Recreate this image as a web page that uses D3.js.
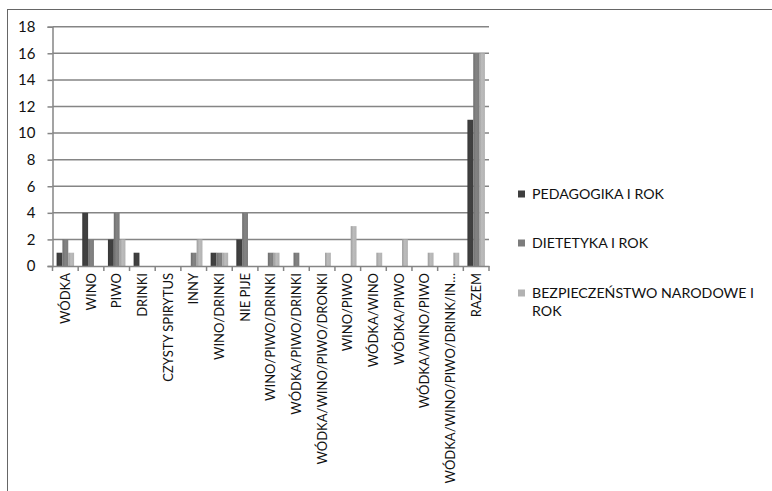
<!DOCTYPE html>
<html>
<head>
<meta charset="utf-8">
<script src="https://cdn.jsdelivr.net/npm/d3@7"></script>
<style>
  html, body { margin: 0; padding: 0; background: #fff; }
  svg { display: block; }
  text { font-family: Lato, "Open Sans", sans-serif; fill: #111; }
</style>
</head>
<body>
<svg id="chart" width="772" height="491"></svg>
<script>
const categories = [
  "WÓDKA", "WINO", "PIWO", "DRINKI", "CZYSTY SPIRYTUS", "INNY", "WINO/DRINKI",
  "NIE PIJE", "WINO/PIWO/DRINKI", "WÓDKA/PIWO/DRINKI", "WÓDKA/WINO/PIWO/DRONKI",
  "WINO/PIWO", "WÓDKA/WINO", "WÓDKA/PIWO", "WÓDKA/WINO/PIWO",
  "WÓDKA/WINO/PIWO/DRINK/IN…", "RAZEM"
];
const seriesNames = ["PEDAGOGIKA I ROK", "DIETETYKA I ROK", "BEZPIECZEŃSTWO NARODOWE I ROK"];
const pedagogika   = [1, 4, 2, 1, 0, 0, 1, 2, 0, 0, 0, 0, 0, 0, 0, 0, 11];
const dietetyka    = [2, 2, 4, 0, 0, 1, 1, 4, 1, 1, 0, 0, 0, 0, 0, 0, 16];
const bezpieczenstwo = [1, 0, 2, 0, 0, 2, 1, 0, 1, 0, 1, 3, 1, 2, 1, 1, 16];
const yTicks = [0, 2, 4, 6, 8, 10, 12, 14, 16, 18];

const series = [pedagogika, dietetyka, bezpieczenstwo];
const colors = ["#3e3e3e", "#7c7c7c", "#b2b2b2"];

const svg = d3.select("#chart");

// outer frame (left and top edges of the embedded chart)
svg.append("line").attr("x1", 7.5).attr("x2", 7.5).attr("y1", 9).attr("y2", 491)
  .attr("stroke", "#666").attr("stroke-width", 1);
svg.append("line").attr("x1", 7).attr("x2", 772).attr("y1", 9.5).attr("y2", 9.5)
  .attr("stroke", "#666").attr("stroke-width", 1);

const plot = { left: 52.5, right: 489, top: 26.7, bottom: 266 };

const x = d3.scaleBand().domain(categories).range([plot.left, plot.right]).paddingInner(0).paddingOuter(0);
const inner = d3.scaleBand().domain(d3.range(series.length)).range([0, x.bandwidth()]).paddingOuter(0.7).paddingInner(0);
const y = d3.scaleLinear().domain([0, 18]).range([plot.bottom, plot.top]);

// gradients for bars
const defs = svg.append("defs");
colors.forEach((c, i) => {
  const g = defs.append("linearGradient").attr("id", "g" + i).attr("x1", "0").attr("x2", "1").attr("y1", "0").attr("y2", "0");
  g.append("stop").attr("offset", "0%").attr("stop-color", d3.color(c).darker(0.35));
  g.append("stop").attr("offset", "45%").attr("stop-color", d3.color(c).brighter(0.15));
  g.append("stop").attr("offset", "100%").attr("stop-color", c);
});

// gridlines
svg.append("g").selectAll("line").data(yTicks.filter(d => d > 0)).join("line")
  .attr("x1", plot.left).attr("x2", plot.right)
  .attr("y1", d => y(d)).attr("y2", d => y(d))
  .attr("stroke", "#858585").attr("stroke-width", 1.5);

// bars
series.forEach((vals, si) => {
  svg.append("g").selectAll("rect").data(vals).join("rect")
    .attr("x", (d, i) => x(categories[i]) + inner(si))
    .attr("width", inner.bandwidth())
    .attr("y", d => y(d))
    .attr("height", d => y(0) - y(d))
    .attr("fill", `url(#g${si})`);
});

// y axis
const yAxis = svg.append("g").attr("transform", `translate(${plot.left},0)`)
  .call(d3.axisLeft(y).tickValues(yTicks).tickSize(5).tickPadding(12));
yAxis.select(".domain").attr("stroke", "#858585").attr("stroke-width", 1.5);
yAxis.selectAll(".tick line").attr("stroke", "#858585").attr("stroke-width", 1.5);
yAxis.selectAll(".tick text").style("font-family", "Lato, sans-serif").style("font-size", "15px").attr("fill", "#111");

// x axis
const xAxis = svg.append("g").attr("transform", `translate(0,${plot.bottom})`)
  .call(d3.axisBottom(x).tickSize(0).tickPadding(0));
xAxis.select(".domain").attr("stroke", "#858585").attr("stroke-width", 1.5);
// tick marks at category boundaries
xAxis.append("g").selectAll("line").data(d3.range(categories.length + 1)).join("line")
  .attr("x1", i => plot.left + i * x.step()).attr("x2", i => plot.left + i * x.step())
  .attr("y1", 0).attr("y2", 5).attr("stroke", "#858585").attr("stroke-width", 1.5);
xAxis.selectAll(".tick text")
  .attr("transform", "rotate(-90)")
  .attr("text-anchor", "end")
  .attr("x", -7).attr("y", 0).attr("dy", "0.36em")
  .style("font-family", "Lato, sans-serif").style("font-size", "13px").attr("fill", "#111");
// keep the longest label inside the picture
xAxis.selectAll(".tick text").each(function () {
  const len = this.getComputedTextLength();
  const maxLen = 212;
  if (len > maxLen) d3.select(this).style("font-size", (13 * maxLen / len).toFixed(2) + "px");
});

// legend
const legend = svg.append("g");
const legendY = [194, 243, 293];
seriesNames.forEach((name, i) => {
  legend.append("rect").attr("x", 518).attr("y", legendY[i] - 3.5).attr("width", 7).attr("height", 7).attr("fill", colors[i]);
  const t = legend.append("text").attr("x", 532).attr("y", legendY[i]).attr("dy", "0.36em")
    .style("font-size", "14.2px");
  if (i === 2) {
    t.append("tspan").attr("x", 532).text("BEZPIECZEŃSTWO NARODOWE I");
    t.append("tspan").attr("x", 532).attr("dy", "1.25em").text("ROK");
  } else {
    t.text(name);
  }
});
</script>
</body>
</html>
